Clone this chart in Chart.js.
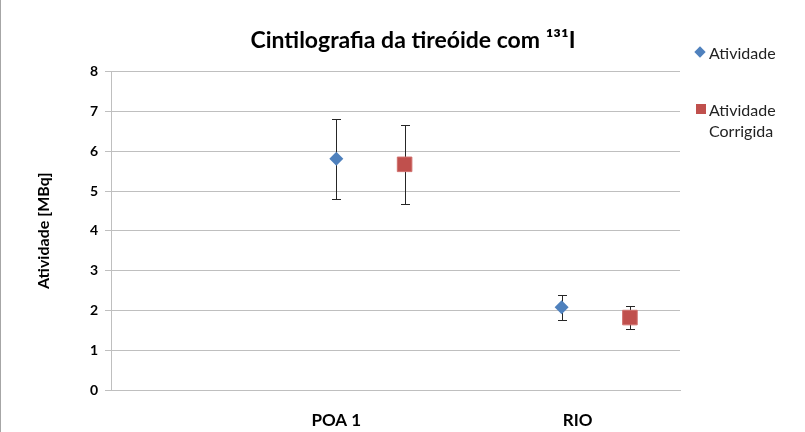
<!DOCTYPE html>
<html>
<head>
<meta charset="utf-8">
<script src="https://cdn.jsdelivr.net/npm/chart.js@4.4.1/dist/chart.umd.min.js"></script>
<style>
  html, body { margin: 0; padding: 0; background: #fff; }
  #wrap { position: relative; width: 805px; height: 432px; box-sizing: border-box; border-left: 1px solid #a6a6a6; }
  #legend { position: absolute; left: 695px; top: 0; font-family: Lato, sans-serif; font-size: 16px; color: #222; }
  .item { position: absolute; left: 0; white-space: nowrap; line-height: 21px; }
  .mk { position: absolute; left: 0; width: 9px; height: 9px; }
  .txt { position: absolute; left: 13px; }
</style>
</head>
<body>
<div id="wrap">
  <canvas id="mycanvas" width="804" height="432"></canvas>
  <div id="legend"></div>
</div>
<script>
// data
var categories = ['POA 1', 'RIO'];
var labelX = [0.99, 2.05];         // where the category labels sit on the x axis
var atividadeX = [0.99, 1.98];
var atividade = [5.81, 2.08];
var atividadeErr = [1.0, 0.31];
var corrigidaX = [1.29, 2.28];
var corrigida = [5.67, 1.82];
var corrigidaErr = [1.0, 0.28];
var seriesNames = ['Atividade', 'Atividade Corrigida'];
var yTicks = [0, 1, 2, 3, 4, 5, 6, 7, 8];

var blue = '#4F81BD';
var red = '#C0504D';

function toPoints(xs, ys, errs) {
	var pts = [];
	for (var i in xs) {
		pts.push({x: xs[i], y: ys[i], err: errs[i]});
	}
	return pts;
}

// error bars drawn through the scales, under the markers
var errorBars = {
	id: 'errorBars',
	beforeDatasetsDraw: function(chart) {
		var ctx = chart.ctx;
		var xs = chart.scales.x, ys = chart.scales.y;
		ctx.save();
		ctx.strokeStyle = '#262626';
		ctx.lineWidth = 1;
		chart.data.datasets.forEach(function(ds) {
			ds.data.forEach(function(p) {
				var px = Math.round(xs.getPixelForValue(p.x)) + 0.5;
				var top = Math.round(ys.getPixelForValue(p.y + p.err)) + 0.5;
				var bot = Math.round(ys.getPixelForValue(p.y - p.err)) + 0.5;
				ctx.beginPath();
				ctx.moveTo(px, top); ctx.lineTo(px, bot);
				ctx.moveTo(px - 4.5, top); ctx.lineTo(px + 4.5, top);
				ctx.moveTo(px - 4.5, bot); ctx.lineTo(px + 4.5, bot);
				ctx.stroke();
			});
		});
		ctx.restore();
	}
};

var chartdata = {
	datasets: [
		{
			label: seriesNames[0],
			data: toPoints(atividadeX, atividade, atividadeErr),
			pointStyle: 'rectRot',
			pointRadius: 7,
			pointHoverRadius: 7,
			backgroundColor: blue,
			borderColor: blue,
			borderWidth: 0
		},
		{
			label: seriesNames[1],
			data: toPoints(corrigidaX, corrigida, corrigidaErr),
			pointStyle: 'rect',
			pointRadius: 10.3,
			pointHoverRadius: 10.3,
			backgroundColor: red,
			borderColor: '#d0706d',
			borderWidth: 1
		}
	]
};

var gridGray = '#bfbfbf';

var ctx = document.getElementById('mycanvas');
var chart = new Chart(ctx, {
	type: 'scatter',
	data: chartdata,
	plugins: [errorBars],
	options: {
		responsive: false,
		animation: false,
		events: [],
		layout: { padding: { left: 20, right: 0, top: 0, bottom: 0 } },
		plugins: {
			legend: { display: false },
			tooltip: { enabled: false },
			title: {
				display: true,
				text: 'Cintilografia da tireóide com ¹³¹I',
				color: '#000',
				font: { family: 'Lato', size: 23, weight: 'bold' },
				padding: { top: 27, bottom: 17 }
			}
		},
		scales: {
			x: {
				type: 'linear',
				min: 0,
				max: 2.5,
				afterBuildTicks: function(s) {
					s.ticks = labelX.map(function(v) { return {value: v}; });
				},
				afterFit: function(s) { s.height = 42; },
				ticks: {
					color: '#000',
					font: { family: 'Lato', size: 17, weight: 'bold' },
					padding: 12,
					autoSkip: false,
					maxRotation: 0,
					callback: function(v) {
						var i = labelX.indexOf(v);
						return i >= 0 ? categories[i] : '';
					}
				},
				grid: { display: false },
				border: { display: true, color: gridGray, width: 1 }
			},
			y: {
				min: 0,
				max: 8,
				afterBuildTicks: function(s) {
					s.ticks = yTicks.map(function(v) { return {value: v}; });
				},
				afterFit: function(s) { s.width = 90; },
				ticks: {
					color: '#000',
					font: { family: 'Lato', size: 14, weight: 'bold' },
					padding: 7
				},
				grid: { color: gridGray, tickLength: 6, drawTicks: true },
				border: { display: true, color: gridGray, width: 1 },
				title: {
					display: true,
					text: 'Atividade [MBq]',
					color: '#000',
					font: { family: 'Lato', size: 16, weight: 'bold' },
					padding: { top: 13, bottom: 0 }
				}
			},
			// keeps the right-hand room where the legend sits
			spacer: {
				type: 'linear',
				position: 'right',
				display: true,
				ticks: { display: false },
				grid: { display: false },
				border: { display: false },
				afterFit: function(s) { s.width = 125; }
			}
		}
	}
});

// legend, beside the plot like the original
var legendRows = [
	{ name: seriesNames[0], color: blue, diamond: true, top: 42 },
	{ name: seriesNames[1], color: red, diamond: false, top: 99 }
];
var leg = document.getElementById('legend');
legendRows.forEach(function(r) {
	var item = document.createElement('div');
	item.className = 'item';
	item.style.top = r.top + 'px';
	var mk = document.createElement('div');
	mk.className = 'mk';
	mk.style.background = r.color;
	mk.style.top = '6px';
	if (r.diamond) {
		mk.style.transform = 'rotate(45deg)';
		mk.style.width = '8px';
		mk.style.height = '8px';
	} else {
		mk.style.width = '10px';
		mk.style.height = '10px';
		mk.style.top = '5px';
	}
	var txt = document.createElement('div');
	txt.className = 'txt';
	txt.innerHTML = r.name.replace(' ', '<br>');
	item.appendChild(mk);
	item.appendChild(txt);
	leg.appendChild(item);
});
</script>
</body>
</html>
